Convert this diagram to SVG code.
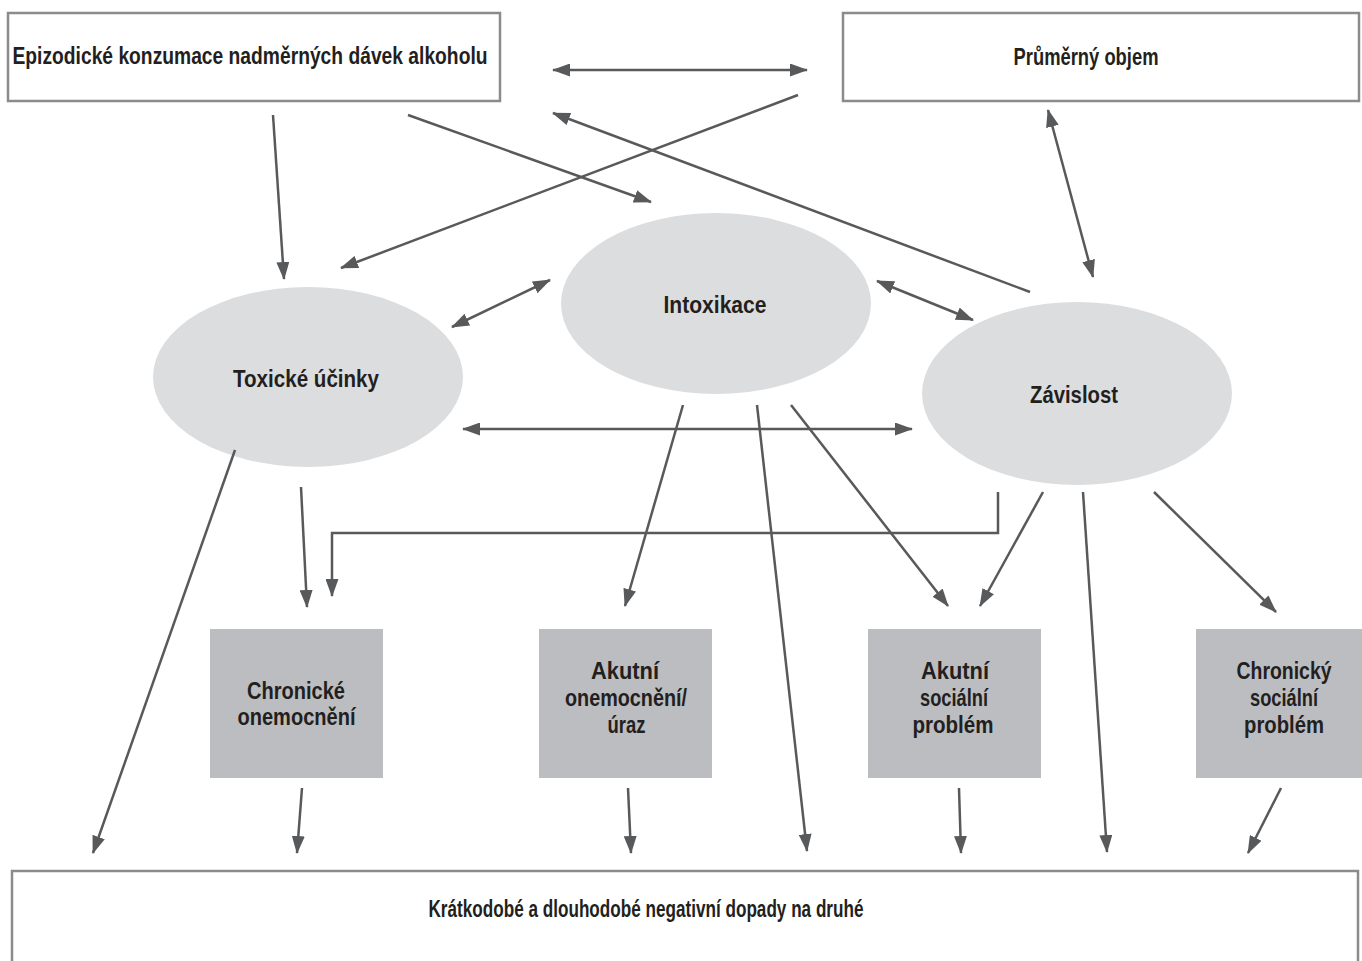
<svg xmlns="http://www.w3.org/2000/svg" width="1362" height="961" viewBox="0 0 1362 961">
<style>
.box{fill:#ffffff;stroke:#8a8b8d;stroke-width:2.5}
.ell{fill:#dcdddf}
.out{fill:#bcbdc0}
.t{font-family:"Liberation Sans",Arial,sans-serif;font-weight:bold;font-size:24px;fill:#231f20;text-anchor:middle}
.c{fill:none;stroke:#58595b;stroke-width:2.5}
.a{marker-end:url(#ah)}
.b{marker-start:url(#ah);marker-end:url(#ah)}
</style>
<defs>
<marker id="ah" viewBox="0 0 18 13" refX="17" refY="6.5" markerWidth="18" markerHeight="13" markerUnits="userSpaceOnUse" orient="auto-start-reverse">
<path d="M0,0 L18,6.5 L0,13 z" fill="#58595b"/>
</marker>
</defs>
<rect width="1362" height="961" fill="#ffffff"/>

<g id="node-epizodicke">
<rect class="box" x="8" y="13" width="492" height="88"/>
<text class="t" x="250" y="64" textLength="475" lengthAdjust="spacingAndGlyphs">Epizodické konzumace nadměrných dávek alkoholu</text>
</g>
<g id="node-prumerny">
<rect class="box" x="843" y="13" width="516" height="88"/>
<text class="t" x="1086" y="65" textLength="145" lengthAdjust="spacingAndGlyphs">Průměrný objem</text>
</g>
<g id="node-toxicke">
<ellipse class="ell" cx="308" cy="377" rx="155" ry="90"/>
<text class="t" x="306" y="387" textLength="146" lengthAdjust="spacingAndGlyphs">Toxické účinky</text>
</g>
<g id="node-intoxikace">
<ellipse class="ell" cx="716" cy="303.5" rx="155" ry="90.5"/>
<text class="t" x="715" y="313" textLength="103" lengthAdjust="spacingAndGlyphs">Intoxikace</text>
</g>
<g id="node-zavislost">
<ellipse class="ell" cx="1077" cy="393.5" rx="155" ry="91.5"/>
<text class="t" x="1074" y="403" textLength="88" lengthAdjust="spacingAndGlyphs">Závislost</text>
</g>
<g id="node-chronicke-onemocneni">
<rect class="out" x="210" y="629" width="173" height="149"/>
<text class="t" x="296" y="699" textLength="98" lengthAdjust="spacingAndGlyphs">Chronické</text>
<text class="t" x="296.5" y="725" textLength="118" lengthAdjust="spacingAndGlyphs">onemocnění</text>
</g>
<g id="node-akutni-onemocneni">
<rect class="out" x="539" y="629" width="173" height="149"/>
<text class="t" x="625" y="679" textLength="68" lengthAdjust="spacingAndGlyphs">Akutní</text>
<text class="t" x="626" y="706" textLength="122" lengthAdjust="spacingAndGlyphs">onemocnění/</text>
<text class="t" x="626.5" y="733" textLength="38" lengthAdjust="spacingAndGlyphs">úraz</text>
</g>
<g id="node-akutni-socialni">
<rect class="out" x="868" y="629" width="173" height="149"/>
<text class="t" x="955" y="679" textLength="68" lengthAdjust="spacingAndGlyphs">Akutní</text>
<text class="t" x="954" y="706" textLength="68" lengthAdjust="spacingAndGlyphs">sociální</text>
<text class="t" x="953" y="733" textLength="81" lengthAdjust="spacingAndGlyphs">problém</text>
</g>
<g id="node-chronicky-socialni">
<rect class="out" x="1196" y="629" width="173" height="149"/>
<text class="t" x="1284" y="679" textLength="95" lengthAdjust="spacingAndGlyphs">Chronický</text>
<text class="t" x="1284" y="706" textLength="68" lengthAdjust="spacingAndGlyphs">sociální</text>
<text class="t" x="1284" y="733" textLength="80" lengthAdjust="spacingAndGlyphs">problém</text>
</g>
<g id="node-dopady">
<rect class="box" x="12" y="871" width="1346" height="110"/>
<text class="t" x="646" y="917" textLength="435" lengthAdjust="spacingAndGlyphs">Krátkodobé a dlouhodobé negativní dopady na druhé</text>
</g>

<g id="connectors">
<line class="c b" x1="553" y1="70" x2="807" y2="70"/>
<line class="c a" x1="273" y1="115" x2="284" y2="279"/>
<line class="c a" x1="408" y1="115" x2="651" y2="202"/>
<line class="c a" x1="798" y1="95" x2="341" y2="268"/>
<line class="c a" x1="1030" y1="292" x2="553" y2="113"/>
<line class="c b" x1="1048" y1="110" x2="1093" y2="277"/>
<line class="c b" x1="452" y1="327" x2="550" y2="280"/>
<line class="c b" x1="877" y1="281" x2="973" y2="320"/>
<line class="c b" x1="463" y1="429" x2="912" y2="429"/>
<line class="c a" x1="235" y1="450" x2="93" y2="853"/>
<line class="c a" x1="301" y1="487" x2="307" y2="607"/>
<polyline class="c a" points="998,492 998,533 332,533 332,596"/>
<line class="c a" x1="683" y1="405" x2="625" y2="606"/>
<line class="c a" x1="757" y1="405" x2="807" y2="851"/>
<line class="c a" x1="791" y1="405" x2="948" y2="606"/>
<line class="c a" x1="1043" y1="492" x2="980" y2="606"/>
<line class="c a" x1="1083" y1="492" x2="1107" y2="852"/>
<line class="c a" x1="1154" y1="492" x2="1276" y2="612"/>
<line class="c a" x1="302" y1="788" x2="297" y2="853"/>
<line class="c a" x1="628" y1="788" x2="631" y2="853"/>
<line class="c a" x1="959" y1="788" x2="961" y2="853"/>
<line class="c a" x1="1281" y1="788" x2="1248" y2="853"/>
</g>
</svg>
